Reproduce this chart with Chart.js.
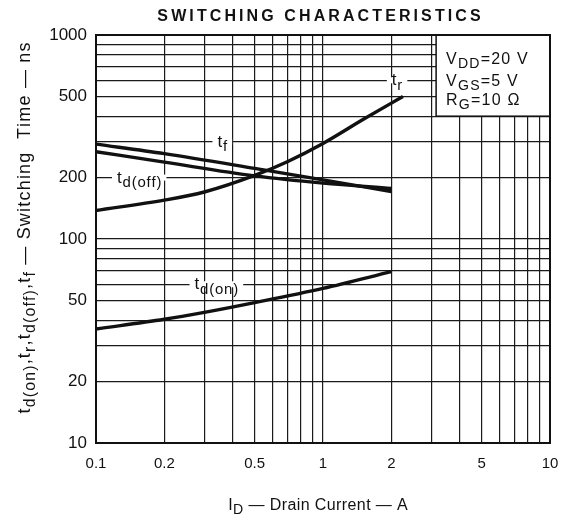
<!DOCTYPE html>
<html>
<head>
<meta charset="utf-8">
<script src="https://cdn.jsdelivr.net/npm/chart.js@4.4.1/dist/chart.umd.min.js"></script>
<style>
  html, body { margin: 0; padding: 0; background: #fff; }
  #chart { display: block; }
</style>
</head>
<body>
<canvas id="chart" width="562" height="521"></canvas>
<script>
// values (drain current in A, time in ns)
const trCurrent = [0.1, 0.2, 0.3, 0.5, 0.7, 1, 1.5, 2.25];
const trTime = [138, 155, 170, 205, 240, 294, 385, 500];
const tfCurrent = [0.1, 0.2, 0.5, 1, 2];
const tfTime = [292, 262, 222, 195, 171];
const tdOffCurrent = [0.1, 0.2, 0.5, 1, 2];
const tdOffTime = [268, 238, 204, 188, 177];
const tdOnCurrent = [0.1, 0.2, 0.3, 0.5, 1, 2];
const tdOnTime = [36.2, 40.4, 43.7, 48.8, 57.3, 69.2];

const xTickLabels = [0.1, 0.2, 0.5, 1, 2, 5, 10];
const yTickLabels = [10, 20, 50, 100, 200, 500, 1000];

const FONT = "'Liberation Sans', Arial, Helvetica, sans-serif";
const INK = '#111';

// curve name tags, anchored on a grid line (data coords)
const curveTags = [
  { sub: 'r', x: 2.12, y: 600 },
  { sub: 'f', x: 0.36, y: 300 },
  { sub: 'd(off)', x: 0.155, y: 200 },
  { sub: 'd(on)', x: 0.339, y: 60 }
];

function logGrid(lo, hi) {
  const out = [];
  for (let e = Math.round(Math.log10(lo)); e < Math.round(Math.log10(hi)); e++) {
    for (let m = 1; m < 10; m++) out.push(+(m * Math.pow(10, e)).toPrecision(3));
  }
  out.push(hi);
  return out;
}

function pts(xs, ys) {
  return xs.map((x, i) => ({ x: x, y: ys[i] }));
}

function curve(label, xs, ys) {
  return {
    label: label,
    data: pts(xs, ys),
    borderColor: INK,
    borderWidth: 3.4,
    pointRadius: 0,
    fill: false,
    cubicInterpolationMode: 'monotone'
  };
}

// text made of normal and subscript pieces, drawn char by char with spacing
function rich(ctx, parts, x, y, size, align, sp, dry) {
  let w = 0;
  parts.forEach(p => {
    ctx.font = (p.sub ? size * 0.88 : size) + 'px ' + FONT;
    p.w = 0;
    for (const c of p.t) p.w += ctx.measureText(c).width + sp;
    w += p.w;
  });
  w -= sp;
  if (dry) return w;
  let cx = align === 'center' ? x - w / 2 : x;
  ctx.textAlign = 'left';
  ctx.textBaseline = 'alphabetic';
  parts.forEach(p => {
    ctx.font = (p.sub ? size * 0.88 : size) + 'px ' + FONT;
    for (const c of p.t) {
      ctx.fillText(c, cx, p.sub ? y + size * 0.25 : y);
      cx += ctx.measureText(c).width + sp;
    }
  });
  return w;
}

const paperPlugin = {
  id: 'paper',
  afterDatasetsDraw(chart) {
    const ctx = chart.ctx;
    const xs = chart.scales.x, ys = chart.scales.y;
    ctx.save();
    curveTags.forEach(tag => {
      const px = xs.getPixelForValue(tag.x);
      const py = ys.getPixelForValue(tag.y);
      const parts = [{ t: 't' }, { t: tag.sub, sub: true }];
      const w = rich(ctx, parts, 0, 0, 17, 'left', 0.8, true);
      ctx.fillStyle = '#fff';
      ctx.fillRect(px - w / 2 - 5, py - 3, w + 10, 6);
      ctx.fillStyle = INK;
      rich(ctx, parts, px, py + 5, 17, 'center', 0.8);
    });
    ctx.restore();
  },
  afterDraw(chart) {
    const ctx = chart.ctx;
    const a = chart.chartArea;
    const xs = chart.scales.x, ys = chart.scales.y;
    ctx.save();

    // condition box in the upper right corner
    const bx = xs.getPixelForValue(3.15), by = ys.getPixelForValue(400);
    ctx.fillStyle = '#fff';
    ctx.fillRect(bx, a.top, a.right - bx, by - a.top);
    ctx.strokeStyle = INK;
    ctx.lineWidth = 1.5;
    ctx.strokeRect(bx, a.top, a.right - bx, by - a.top);
    ctx.fillStyle = INK;
    rich(ctx, [{ t: 'V' }, { t: 'DD', sub: true }, { t: '=20 V' }], bx + 10, 64, 16, 'left', 1.2);
    rich(ctx, [{ t: 'V' }, { t: 'GS', sub: true }, { t: '=5 V' }], bx + 10, 86, 16, 'left', 1.2);
    rich(ctx, [{ t: 'R' }, { t: 'G', sub: true }, { t: '=10 \u03A9' }], bx + 10, 105, 16, 'left', 1.2);

    // frame
    ctx.lineWidth = 2;
    ctx.strokeRect(a.left, a.top, a.right - a.left, a.bottom - a.top);

    // title, letter spaced
    const title = 'SWITCHING CHARACTERISTICS';
    ctx.font = 'bold 16px ' + FONT;
    const spacing = 3.1;
    let tw = 0;
    for (const c of title) tw += ctx.measureText(c).width + spacing;
    tw -= spacing;
    let tx = 319 - tw / 2;
    ctx.textAlign = 'left';
    for (const c of title) {
      ctx.fillText(c, tx, 21);
      tx += ctx.measureText(c).width + spacing;
    }

    // x axis title
    rich(ctx, [{ t: 'I' }, { t: 'D', sub: true }, { t: ' \u2014 Drain Current \u2014 A' }], 318, 510, 16, 'center', 0.4);

    // y axis title
    ctx.translate(30, 228);
    ctx.rotate(-Math.PI / 2);
    rich(ctx, [
      { t: 't' }, { t: 'd(on)', sub: true }, { t: ',t' }, { t: 'r', sub: true },
      { t: ',t' }, { t: 'd(off)', sub: true }, { t: ',t' }, { t: 'f', sub: true },
      { t: ' \u2014 Switching  Time \u2014 ns' }
    ], 0, 0, 18, 'center', 1.2);
    ctx.restore();
  }
};

const ctx = document.getElementById('chart').getContext('2d');

const switchingChart = new Chart(ctx, {
  type: 'line',
  data: {
    datasets: [
      curve('tr', trCurrent, trTime),
      curve('tf', tfCurrent, tfTime),
      curve('td(off)', tdOffCurrent, tdOffTime),
      curve('td(on)', tdOnCurrent, tdOnTime)
    ]
  },
  plugins: [paperPlugin],
  options: {
    responsive: false,
    animation: false,
    layout: { padding: { top: 35, right: 12, left: 0, bottom: 0 } },
    plugins: {
      legend: { display: false },
      tooltip: { enabled: false }
    },
    scales: {
      x: {
        type: 'logarithmic',
        min: 0.1,
        max: 10,
        afterBuildTicks: s => { s.ticks = logGrid(0.1, 10).map(v => ({ value: v })); },
        afterFit: s => { s.height = 78; s.paddingLeft = 0; s.paddingRight = 0; },
        border: { display: false },
        grid: { color: '#1a1a1a', lineWidth: 1.2, drawTicks: false },
        ticks: {
          autoSkip: false,
          maxRotation: 0,
          padding: 12,
          color: INK,
          font: { family: FONT, size: 15 },
          callback: v => xTickLabels.some(t => Math.abs(t - v) < 1e-9) ? String(v) : ''
        }
      },
      y: {
        type: 'logarithmic',
        min: 10,
        max: 1000,
        afterBuildTicks: s => { s.ticks = logGrid(10, 1000).map(v => ({ value: v })); },
        afterFit: s => { s.width = 96; s.paddingTop = 0; s.paddingBottom = 0; },
        border: { display: false },
        grid: { color: '#1a1a1a', lineWidth: 1.2, drawTicks: false },
        ticks: {
          autoSkip: false,
          padding: 9,
          color: INK,
          font: { family: FONT, size: 17 },
          callback: v => yTickLabels.includes(v) ? String(v) : ''
        }
      }
    }
  }
});
</script>
</body>
</html>
